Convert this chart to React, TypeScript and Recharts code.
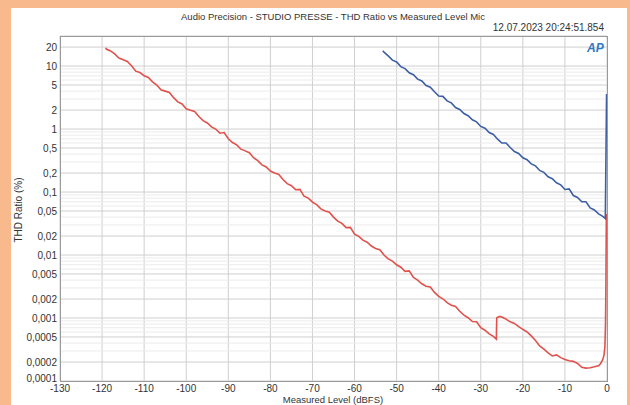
import { LineChart, Line, XAxis, YAxis, CartesianGrid, ReferenceLine } from "recharts";

const redLevels = [
  -119.1, -119, -118, -117, -116, -115, -114, -113, -112, -111, -110, -109, -108, -107, -106, -105,
  -104, -103, -102, -101, -100, -99, -98, -97, -96, -95, -94, -93, -92, -91, -90, -89, -88, -87,
  -86, -85, -84, -83, -82, -81, -80, -79, -78, -77, -76, -75, -74, -73, -72, -71, -70, -69, -68,
  -67, -66, -65, -64, -63, -62, -61, -60, -59, -58, -57, -56, -55, -54, -53, -52, -51, -50, -49,
  -48, -47, -46, -45, -44, -43, -42, -41, -40, -39, -38, -37, -36, -35, -34, -33, -32, -31, -30,
  -29, -28, -27, -26.3, -26.2, -25.5, -25, -24.5, -24, -23, -22, -21, -20, -19, -18, -17, -16, -15,
  -14, -13, -12, -11, -10, -9, -8, -7, -6, -5, -4, -3, -2, -1.5, -1, -0.7, -0.5, -0.35, -0.25, -0.15,
];
const redThd = [
  19.5, 18.6, 17.4, 15.6, 13.4, 12.6, 11.8, 10.1, 8.3, 7.9, 7.0, 6.6, 5.6, 5.0, 4.2, 4.0, 3.8, 3.15,
  2.7, 2.5, 2.1, 1.98, 1.9, 1.58, 1.36, 1.25, 1.08, 1.0, 0.86, 0.88, 0.7, 0.61, 0.56, 0.48, 0.45,
  0.42, 0.35, 0.315, 0.27, 0.25, 0.215, 0.2, 0.19, 0.158, 0.136, 0.126, 0.109, 0.11, 0.086,
  0.08, 0.069, 0.063, 0.054, 0.05, 0.048, 0.04, 0.0345, 0.0318, 0.0272, 0.0275, 0.0215, 0.0198,
  0.0172, 0.016, 0.0139, 0.0127, 0.0121, 0.01, 0.0087, 0.008, 0.007, 0.0064, 0.0055, 0.0056,
  0.0044, 0.004, 0.0035, 0.0032, 0.0031, 0.00255, 0.0022, 0.00202, 0.00175, 0.0016, 0.00153,
  0.00128, 0.00111, 0.00101, 0.00088, 0.00087, 0.0007, 0.00064, 0.00056, 0.00051, 0.00046,
  0.00101, 0.00106, 0.00104, 0.001, 0.00096, 0.00087, 0.00082, 0.00073, 0.00066, 0.0006, 0.00052,
  0.00044, 0.00036, 0.00032, 0.00028, 0.00025, 0.00026, 0.000235, 0.00022, 0.00021, 0.000205,
  0.00019, 0.000165, 0.00016, 0.000162, 0.000168, 0.000175, 0.00019, 0.00022, 0.00026, 0.00035,
  0.0008, 0.004, 0.045,
];

const blueLevels = [
  -53.3, -53, -52, -51, -50, -49, -48, -47, -46, -45, -44, -43, -42, -41, -40, -39, -38, -37, -36,
  -35, -34, -33, -32, -31, -30, -29, -28, -27, -26, -25, -24, -23, -22, -21, -20, -19, -18, -17, -16,
  -15, -14, -13, -12, -11, -10, -9, -8, -7, -6, -5, -4, -3, -2, -1, -0.4, -0.1,
];
const blueThd = [
  17.5, 16.6, 14.5, 12.4, 11.6, 9.8, 9.1, 7.8, 7.3, 6.2, 5.8, 4.9, 4.6, 3.9, 3.35, 3.3, 2.8, 2.6,
  2.2, 2.05, 1.76, 1.63, 1.4, 1.3, 1.1, 1.03, 0.88, 0.82, 0.69, 0.6, 0.6, 0.51, 0.44, 0.41, 0.35,
  0.325, 0.28, 0.26, 0.22, 0.205, 0.175, 0.163, 0.14, 0.13, 0.11, 0.112, 0.088, 0.082, 0.07, 0.07,
  0.056, 0.052, 0.045, 0.041, 0.038, 3.6,
];

const xTicks = [-130, -120, -110, -100, -90, -80, -70, -60, -50, -40, -30, -20, -10, 0];
const yMajor = [
  0.0001, 0.0002, 0.0005, 0.001, 0.002, 0.005, 0.01, 0.02, 0.05, 0.1, 0.2, 0.5, 1, 2, 5, 10, 20,
];
const yMinor = [
  0.0003, 0.0004, 0.0006, 0.0007, 0.0008, 0.0009, 0.003, 0.004, 0.006, 0.007, 0.008, 0.009, 0.03,
  0.04, 0.06, 0.07, 0.08, 0.09, 0.3, 0.4, 0.6, 0.7, 0.8, 0.9, 3, 4, 6, 7, 8, 9, 30,
];

const redData = redLevels.map((level, i) => ({ level, thd: redThd[i] }));
const blueData = blueLevels.map((level, i) => ({ level, thd: blueThd[i] }));

const FONT = '"Liberation Sans", Arial, sans-serif';
const TEXT = "#333";

// y tick with the lowest label nudged up a bit so it clears "-130"
function YTick(props: any) {
  const { x, y, payload } = props;
  const shift = payload.value === 0.0001 ? -3 : 0;
  return (
    <text x={x} y={y + shift} dy="0.355em" textAnchor="end" fill={TEXT} fontSize={10} fontFamily={FONT}>
      {String(payload.value).replace(".", ",")}
    </text>
  );
}

export default function App() {
  return (
    <div
      style={{
        position: "fixed",
        left: 0,
        top: 0,
        width: 630,
        height: 405,
        background: "#F8B98C",
        overflow: "hidden",
        fontFamily: FONT,
      }}
    >
      <div style={{ position: "absolute", left: 11, top: 8, width: 616, height: 397, background: "#fff" }} />
      <div style={{ position: "absolute", left: 0, top: 0 }}>
        <LineChart width={630} height={405} margin={{ top: 36, right: 23, left: 0, bottom: 0 }}>
          {yMinor.map((v) => (
            <ReferenceLine key={v} y={v} stroke="#ebebeb" strokeWidth={1} ifOverflow="hidden" />
          ))}
          <CartesianGrid stroke="#cfcfcf" />
          <XAxis
            type="number"
            dataKey="level"
            domain={[-130, 0]}
            ticks={xTicks}
            interval={0}
            height={24}
            tickLine={false}
            axisLine={false}
            tickSize={4}
            tickMargin={0}
            tick={{ fill: TEXT, fontSize: 10, fontFamily: FONT }}
          />
          <YAxis
            type="number"
            scale="log"
            domain={[0.0001, 30]}
            allowDataOverflow
            ticks={yMajor}
            interval={0}
            width={60}
            tickLine={false}
            axisLine={false}
            tickSize={3}
            tickMargin={0}
            tick={<YTick />}
          />
          <Line
            data={redData}
            dataKey="thd"
            stroke="#E0524C"
            strokeWidth={1.6}
            dot={false}
            isAnimationActive={false}
          />
          <Line
            data={blueData}
            dataKey="thd"
            stroke="#3E5FA6"
            strokeWidth={1.6}
            dot={false}
            isAnimationActive={false}
          />
        </LineChart>
      </div>
      {/* plot frame */}
      <div
        style={{
          position: "absolute",
          left: 60,
          top: 36,
          width: 548,
          height: 346,
          border: "1px solid #9a9a9a",
          boxSizing: "border-box",
          pointerEvents: "none",
        }}
      />
      <div
        style={{
          position: "absolute",
          left: 0,
          width: 666,
          top: 11,
          textAlign: "center",
          fontSize: 9.5,
          color: TEXT,
        }}
      >
        Audio Precision - STUDIO PRESSE - THD Ratio vs Measured Level Mic
      </div>
      <div style={{ position: "absolute", right: 26, top: 22, fontSize: 10, color: TEXT }}>
        12.07.2023 20:24:51.854
      </div>
      <div
        style={{
          position: "absolute",
          left: 587,
          top: 41,
          fontSize: 12,
          fontWeight: "bold",
          fontStyle: "italic",
          color: "#2F78C4",
        }}
      >
        AP
      </div>
      <div
        style={{
          position: "absolute",
          left: 0,
          width: 666,
          top: 395,
          textAlign: "center",
          fontSize: 9.5,
          lineHeight: "10px",
          color: TEXT,
        }}
      >
        Measured Level (dBFS)
      </div>
      <div
        style={{
          position: "absolute",
          left: 18,
          top: 210,
          transform: "translate(-50%, -50%) rotate(-90deg)",
          whiteSpace: "nowrap",
          fontSize: 10,
          color: TEXT,
        }}
      >
        THD Ratio (%)
      </div>
    </div>
  );
}
